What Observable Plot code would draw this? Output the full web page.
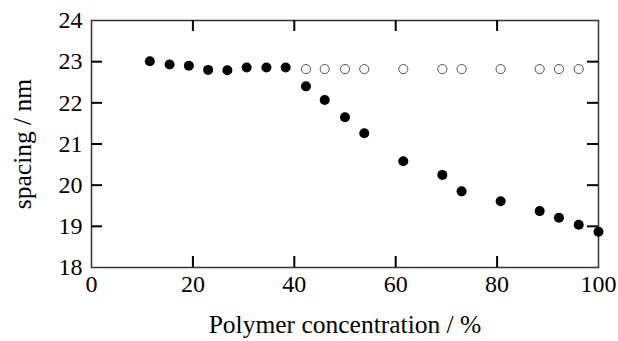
<!DOCTYPE html>
<html>
<head>
<meta charset="utf-8">
<script src="https://cdn.jsdelivr.net/npm/d3@7"></script>
<script src="https://cdn.jsdelivr.net/npm/@observablehq/plot@0.6"></script>
<style>
  html, body { margin: 0; padding: 0; background: #fff; }
  #chart svg { font-family: "Liberation Serif", "DejaVu Serif", serif; }
</style>
</head>
<body>
<div id="chart"></div>
<script>
const filledX = [11.5, 15.4, 19.2, 23.0, 26.8, 30.6, 34.5, 38.3, 42.3, 46.0, 50.0, 53.8, 61.5, 69.2, 73.0, 80.7, 88.4, 92.2, 96.1, 100];
const filledY = [23.01, 22.93, 22.90, 22.80, 22.79, 22.86, 22.86, 22.86, 22.40, 22.07, 21.65, 21.26, 20.58, 20.25, 19.85, 19.61, 19.37, 19.21, 19.04, 18.87];
const openX = [42.3, 46.0, 50.0, 53.8, 61.5, 69.2, 73.0, 80.7, 88.4, 92.2, 96.1];
const openY = [22.82, 22.82, 22.82, 22.82, 22.82, 22.82, 22.82, 22.82, 22.82, 22.82, 22.82];
const xTicks = [0, 20, 40, 60, 80, 100];
const yTicks = [18, 19, 20, 21, 22, 23, 24];
const xInnerTicks = [20, 40, 60, 80];
const yInnerTicks = [19, 20, 21, 22, 23];
const xTitle = "Polymer concentration / %";
const yTitle = "spacing / nm";

const filled = filledX.map((x, i) => ({x, y: filledY[i]}));
const open = openX.map((x, i) => ({x, y: openY[i]}));

const W = 618, H = 341, ML = 91, MR = 20, MT = 20, MB = 74;
const TICK = 11;
const frameW = W - ML - MR, frameH = H - MT - MB;

const chart = Plot.plot({
  width: W,
  height: H,
  marginLeft: ML,
  marginRight: MR,
  marginTop: MT,
  marginBottom: MB,
  style: {fontFamily: "'Liberation Serif', 'DejaVu Serif', serif", fontSize: "24px"},
  x: {domain: [0, 100]},
  y: {domain: [18, 24]},
  marks: [
    Plot.axisX(xTicks, {anchor: "bottom", tickSize: 0, tickPadding: 7, fontSize: 24, label: null}),
    Plot.axisY(yTicks, {anchor: "left", tickSize: 0, tickPadding: 9, fontSize: 24, label: null}),
    Plot.axisX({anchor: "bottom", ticks: [], tickSize: 0, fontSize: 25.5, label: xTitle, labelAnchor: "center", labelOffset: 65, labelArrow: "none"}),
    Plot.axisY({anchor: "left", ticks: [], tickSize: 0, fontSize: 25.5, label: yTitle, labelAnchor: "center", labelOffset: 79, labelArrow: "none"}),
    Plot.frame({stroke: "#333", strokeWidth: 1.5}),
    Plot.dot(open, {x: "x", y: "y", r: 4.6, fill: "white", stroke: "#555", strokeWidth: 1}),
    Plot.dot(filled, {x: "x", y: "y", r: 5, fill: "black", stroke: "none"}),
    // inward ticks on all four sides (drawn last, on top)
    Plot.tickX(xInnerTicks, {x: d => d, insetTop: frameH - TICK, stroke: "black", strokeWidth: 2}),
    Plot.tickX(xInnerTicks, {x: d => d, insetBottom: frameH - TICK, stroke: "black", strokeWidth: 2}),
    Plot.tickY(yInnerTicks, {y: d => d, insetRight: frameW - TICK, stroke: "black", strokeWidth: 2}),
    Plot.tickY(yInnerTicks, {y: d => d, insetLeft: frameW - TICK, stroke: "black", strokeWidth: 2})
  ]
});
document.getElementById("chart").appendChild(chart);
</script>
</body>
</html>
